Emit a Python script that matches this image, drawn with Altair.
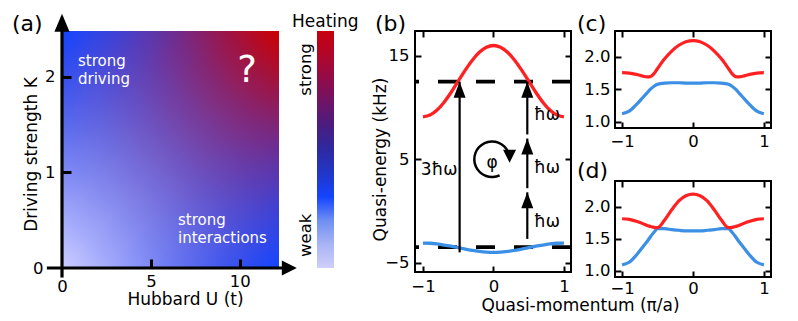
import altair as alt
import pandas as pd

# ---------------- data ----------------
# (a) heating diagram: extent of the map and its tick values
hubbard_u_extent = [0.0, 12.2]
driving_k_extent = [0.0, 2.48]
u_ticks_inner = [5, 10]
k_ticks_inner = [1, 2]
origin_tick = [0]

# colour bar
heating_extent = [0.0, 1.0]
heating_words = ["weak", "strong"]
heating_word_levels = [0.14, 0.84]

# (b) Floquet bands
qm_b = [-1.0, -0.9, -0.8, -0.7, -0.6, -0.5, -0.4, -0.3, -0.2, -0.1, 0.0,
        0.1, 0.2, 0.3, 0.4, 0.5, 0.6, 0.7, 0.8, 0.9, 1.0]
upper_b = [9.1, 9.27, 9.76, 10.52, 11.48, 12.55, 13.62, 14.58, 15.34, 15.83, 16.0,
           15.83, 15.34, 14.58, 13.62, 12.55, 11.48, 10.52, 9.76, 9.27, 9.1]
lower_b = [-3.10, -3.12, -3.19, -3.29, -3.41, -3.55, -3.69, -3.81, -3.91, -3.98, -4.0,
           -3.98, -3.91, -3.81, -3.69, -3.55, -3.41, -3.29, -3.19, -3.12, -3.10]
resonance_levels = [12.5, -3.5]
arrow_q = [-0.48, 0.48, 0.48, 0.48]
arrow_from = [-4.0, -2.7, 2.2, 7.4]
arrow_to = [12.5, 1.8, 7.0, 12.5]
b_x_ticks = [-1, 0, 1]
b_y_ticks = [15, 5, -5]

# (c), (d)
qm_cd = [-1.0, -0.9, -0.8, -0.7, -0.65, -0.6, -0.55, -0.5, -0.4, -0.3, -0.2, -0.1, 0.0,
         0.1, 0.2, 0.3, 0.4, 0.5, 0.55, 0.6, 0.65, 0.7, 0.8, 0.9, 1.0]
upper_c = [1.755, 1.75, 1.73, 1.70, 1.69, 1.695, 1.74, 1.82, 1.97, 2.09, 2.18, 2.235, 2.25,
           2.235, 2.18, 2.09, 1.97, 1.82, 1.74, 1.695, 1.69, 1.70, 1.73, 1.75, 1.755]
lower_c = [1.12, 1.16, 1.26, 1.38, 1.44, 1.50, 1.545, 1.575, 1.595, 1.60, 1.60, 1.595, 1.595,
           1.595, 1.60, 1.60, 1.595, 1.575, 1.545, 1.50, 1.44, 1.38, 1.26, 1.16, 1.12]
upper_d = [1.81, 1.80, 1.77, 1.73, 1.705, 1.69, 1.675, 1.67, 1.79, 1.95, 2.09, 2.17, 2.195,
           2.17, 2.09, 1.95, 1.79, 1.67, 1.675, 1.69, 1.705, 1.73, 1.77, 1.80, 1.81]
lower_d = [1.09, 1.13, 1.24, 1.38, 1.45, 1.53, 1.60, 1.655, 1.655, 1.64, 1.63, 1.62, 1.62,
           1.62, 1.63, 1.64, 1.655, 1.655, 1.60, 1.53, 1.45, 1.38, 1.24, 1.13, 1.09]
cd_x_ticks = [-1, 0, 1]
cd_y_ticks = [1.0, 1.5, 2.0]

# ---------------- styles ----------------
FONT = "DejaVu Sans"
RED = "#ff2121"
BLUE = "#3b8fe4"
FRAME = alt.ViewBackground(stroke="black", strokeWidth=2)
GAP = 44


def panel_title(text, dx, offset):
    return alt.TitleParams(text=text, anchor="start", frame="group", dx=dx, offset=offset,
                           baseline="alphabetic", fontSize=22, fontWeight="normal",
                           font=FONT, color="black")


def tick_axis(orient, offset, values, size=6, width=2):
    return alt.Axis(orient=orient, offset=offset, values=values, labels=False, ticks=True,
                    tickSize=size, tickWidth=width, tickColor="black", domain=False,
                    grid=False, title=None, zindex=2)


def label_axis(orient, values, pad, fmt=None, **kw):
    args = dict(orient=orient, values=values, labels=True, ticks=False, domain=False,
                grid=False, labelPadding=pad, labelFlush=False, labelFontSize=16.5,
                labelColor="black", labelFont=FONT, zindex=2)
    if fmt is not None:
        args["format"] = fmt
    if "title" not in kw:
        args["title"] = None
    args.update(kw)
    return alt.Axis(**args)


# ---------------- panel (a) ----------------
PX_PER_U = 217 / 12.2
W_A, H_A = 211, 237
xa = alt.Scale(domain=[0.0, W_A / PX_PER_U], nice=False, zero=False)
ya = alt.Scale(domain=driving_k_extent, nice=False, zero=False)

heat_df = pd.DataFrame({"u0": [hubbard_u_extent[0]], "u1": [hubbard_u_extent[1]],
                        "k0": [driving_k_extent[0]], "k1": [driving_k_extent[1]]})

diag_stops = [(0.0, "#cdcdff"), (0.125, "#a5abfb"), (0.25, "#888cef"), (0.375, "#776fdb"),
              (0.5, "#7154bf"), (0.625, "#773c9b"), (0.75, "#882670"), (0.875, "#a4123c"),
              (1.0, "#cc0000")]
base_grad = alt.LinearGradient(
    gradient="linear", x1=0, y1=1, x2=1, y2=0,
    stops=[alt.GradientStop(offset=o, color=c) for o, c in diag_stops])
anti_alpha = [(0.0, 1.0), (0.1, 0.64), (0.2, 0.36), (0.3, 0.16), (0.4, 0.04), (0.5, 0.0),
              (0.6, 0.04), (0.7, 0.16), (0.8, 0.36), (0.9, 0.64), (1.0, 1.0)]
anti_grad = alt.LinearGradient(
    gradient="linear", x1=0, y1=0, x2=1, y2=1,
    stops=[alt.GradientStop(offset=o, color=f"rgba(20,68,255,{a})") for o, a in anti_alpha])

heat = alt.Chart(heat_df).mark_rect(color=base_grad).encode(
    x=alt.X("u0:Q", scale=xa, axis=label_axis(
        "bottom", u_ticks_inner, 5, title="Hubbard U (t)", titleX=123, titleY=31,
        titleBaseline="middle", titleAlign="center", titleFontSize=17,
        titleFontWeight="normal", titleFont=FONT, titleColor="black")),
    x2="u1:Q",
    y=alt.Y("k0:Q", scale=ya, axis=label_axis(
        "left", k_ticks_inner, 7, title="Driving strength K", titleX=-31, titleY=123,
        titleAngle=270, titleBaseline="middle", titleAlign="center", titleFontSize=17,
        titleFontWeight="normal", titleFont=FONT, titleColor="black")),
    y2="k1:Q",
)
heat_overlay = alt.Chart(heat_df).mark_rect(color=anti_grad).encode(
    x=alt.X("u0:Q", scale=xa, axis=tick_axis("top", -H_A, u_ticks_inner, 9, 3)),
    x2="u1:Q",
    y=alt.Y("k0:Q", scale=ya, axis=tick_axis("right", -W_A, k_ticks_inner, 9, 3)),
    y2="k1:Q",
)
axes_lines = pd.DataFrame({"x": [-0.85, 0.0], "x2": [13.0, 0.0],
                           "y": [0.0, -0.1], "y2": [0.0, 2.55]})
a_axes = alt.Chart(axes_lines).mark_rule(color="black", strokeWidth=3.2).encode(
    x=alt.X("x:Q", scale=xa, axis=label_axis("bottom", origin_tick, 10)),
    x2="x2:Q",
    y=alt.Y("y:Q", scale=ya, axis=label_axis("left", origin_tick, 19)),
    y2="y2:Q",
)
a_head_x = alt.Chart(pd.DataFrame({"x": [13.2], "y": [0.0]})).mark_point(
    shape="M0,0 L-1,-0.5 L-1,0.5 Z", size=900, filled=True, color="black", opacity=1,
    strokeWidth=0).encode(x=alt.X("x:Q", scale=xa, axis=None),
                          y=alt.Y("y:Q", scale=ya, axis=None))
a_head_y = alt.Chart(pd.DataFrame({"x": [0.0], "y": [2.66]})).mark_point(
    shape="M0,0 L-0.42,1 L0.42,1 Z", size=1296, filled=True, color="black", opacity=1,
    strokeWidth=0).encode(x=alt.X("x:Q", scale=xa, axis=None),
                          y=alt.Y("y:Q", scale=ya, axis=None))
a_notes = pd.DataFrame({"x": [0.9, 0.9, 6.52, 6.52],
                        "y": [2.11, 1.93, 0.45, 0.26],
                        "t": ["strong", "driving", "strong", "interactions"]})
a_text = alt.Chart(a_notes).mark_text(color="white", fontSize=15, align="left",
                                      baseline="alphabetic").encode(
    x=alt.X("x:Q", scale=xa, axis=None), y=alt.Y("y:Q", scale=ya, axis=None), text="t:N")
a_q = alt.Chart(pd.DataFrame({"x": [10.4], "y": [1.95], "t": ["?"]})).mark_text(
    color="white", fontSize=37, align="center", baseline="alphabetic").encode(
    x=alt.X("x:Q", scale=xa, axis=None), y=alt.Y("y:Q", scale=ya, axis=None), text="t:N")

panel_a = alt.layer(heat, heat_overlay, a_axes, a_head_x, a_head_y, a_text, a_q).resolve_axis(
    x="independent", y="independent").properties(
    width=W_A, height=H_A, title=panel_title("(a)", -50, -39))

# ---------------- colour bar ----------------
cb_stops = [(0.0, "#cfcffa"), (0.1, "#a8b4f5"), (0.2, "#6f8ff2"), (0.3, "#1444ff"),
            (0.4, "#2236c8"), (0.5, "#2e2aa0"), (0.6, "#4a1c80"), (0.7, "#6e1466"),
            (0.8, "#920c48"), (0.9, "#b00628"), (1.0, "#c80010")]
cb_grad = alt.LinearGradient(
    gradient="linear", x1=0, y1=1, x2=0, y2=0,
    stops=[alt.GradientStop(offset=o, color=c) for o, c in cb_stops])
word_expr = " : ".join(
    [f"abs(datum.value - {lv}) < 0.01 ? '{w}'" for lv, w in zip(heating_word_levels, heating_words)]
) + " : ''"
cbar_df = pd.DataFrame({"w0": [0.0], "w1": [1.0],
                        "h0": [heating_extent[0]], "h1": [heating_extent[1]]})
cbar = alt.Chart(cbar_df).mark_rect(color=cb_grad).encode(
    x=alt.X("w0:Q", scale=alt.Scale(domain=[0, 1], range=[0, 17], nice=False, zero=False),
            axis=None),
    x2="w1:Q",
    y=alt.Y("h0:Q", scale=alt.Scale(domain=heating_extent, nice=False, zero=False),
            axis=label_axis("left", heating_word_levels, 4, labelExpr=word_expr,
                            labelAngle=270, labelAlign="center", labelBaseline="bottom")),
    y2="h1:Q",
).properties(width=415 - GAP - 317, height=H_A, title=alt.TitleParams(
    text="Heating", anchor="start", frame="group", dx=-25, offset=-13, baseline="alphabetic",
    fontSize=17, fontWeight="normal", font=FONT, color="black"))

# ---------------- panel (b) ----------------
W_B, H_B = 156, 241
xb = alt.Scale(domain=[-1.113, 1.1], nice=False, zero=False)
yb = alt.Scale(domain=[-5.9, 17.4], nice=False, zero=False)
band_b = pd.DataFrame({"q": qm_b, "upper": upper_b, "lower": lower_b})

b_dash = alt.Chart(pd.DataFrame({"e": resonance_levels})).mark_rule(
    color="black", strokeWidth=3.8, strokeDash=[19, 19]).encode(
    y=alt.Y("e:Q", scale=yb, axis=None))
b_red = alt.Chart(band_b).mark_line(color=RED, strokeWidth=3.3, interpolate="monotone").encode(
    x=alt.X("q:Q", scale=xb, axis=label_axis(
        "bottom", b_x_ticks, 6, title="Quasi-momentum (π/a)", titleX=165, titleY=33,
        titleBaseline="middle", titleAlign="center", titleFontSize=17,
        titleFontWeight="normal", titleFont=FONT, titleColor="black")),
    y=alt.Y("upper:Q", scale=yb, axis=label_axis(
        "left", b_y_ticks, 6, title="Quasi-energy (kHz)", titleX=-35, titleY=128,
        titleAngle=270, titleBaseline="middle", titleAlign="center", titleFontSize=17,
        titleFontWeight="normal", titleFont=FONT, titleColor="black")),
)
b_blue = alt.Chart(band_b).mark_line(color=BLUE, strokeWidth=3.3, interpolate="monotone").encode(
    x=alt.X("q:Q", scale=xb, axis=tick_axis("top", -H_B, b_x_ticks)),
    y=alt.Y("lower:Q", scale=yb, axis=tick_axis("right", -W_B, b_y_ticks)),
)
arrows = pd.DataFrame({"q": arrow_q, "e0": arrow_from, "e1": arrow_to})
b_shaft = alt.Chart(arrows).mark_rule(color="black", strokeWidth=2.2).encode(
    x=alt.X("q:Q", scale=xb, axis=tick_axis("bottom", -H_B, b_x_ticks)),
    y=alt.Y("e0:Q", scale=yb, axis=tick_axis("left", -W_B, b_y_ticks)),
    y2="e1:Q",
)
b_head = alt.Chart(arrows).mark_point(
    shape="M0,0 L-0.375,1 L0.375,1 Z", size=1024, filled=True, color="black", opacity=1,
    strokeWidth=0).encode(x=alt.X("q:Q", scale=xb, axis=None),
                          y=alt.Y("e1:Q", scale=yb, axis=None))
phase_center = pd.DataFrame({"q": [-0.02], "e": [5.0]})
b_arc = alt.Chart(phase_center).mark_arc(
    color="black", radius=19, radius2=16.5, theta=2.7, theta2=7.43).encode(
    x=alt.X("q:Q", scale=xb, axis=None), y=alt.Y("e:Q", scale=yb, axis=None))
b_arc_head = alt.Chart(phase_center).mark_point(
    shape="M0,0 L-0.5,-1 L0.5,-1 Z", size=676, filled=True, color="black", opacity=1,
    strokeWidth=0, xOffset=17.5, yOffset=3.5).encode(
    x=alt.X("q:Q", scale=xb, axis=None), y=alt.Y("e:Q", scale=yb, axis=None))
b_notes = pd.DataFrame({"q": [-0.02, -0.77, 0.76, 0.76, 0.76],
                        "e": [4.6, 4.0, 9.3, 4.2, -1.1],
                        "t": ["φ", "3ħω", "ħω", "ħω", "ħω"]})
b_text = alt.Chart(b_notes).mark_text(color="black", fontSize=17, align="center",
                                      baseline="middle").encode(
    x=alt.X("q:Q", scale=xb, axis=None), y=alt.Y("e:Q", scale=yb, axis=None), text="t:N")

panel_b = alt.layer(b_dash, b_red, b_blue, b_shaft, b_head, b_arc, b_arc_head, b_text).resolve_axis(
    x="independent", y="independent").properties(
    width=W_B, height=H_B, view=FRAME, title=panel_title("(b)", -40, -23))


# ---------------- panels (c), (d) ----------------
def small_panel(upper, lower, height, xpad, label, title_offset):
    df = pd.DataFrame({"q": qm_cd, "upper": upper, "lower": lower})
    xs = alt.Scale(domain=[-1.1, 1.1], nice=False, zero=False)
    ys = alt.Scale(domain=[0.9, 2.4], nice=False, zero=False)
    red = alt.Chart(df).mark_line(color=RED, strokeWidth=3.2, interpolate="monotone").encode(
        x=alt.X("q:Q", scale=xs, axis=label_axis("bottom", cd_x_ticks, xpad)),
        y=alt.Y("upper:Q", scale=ys, axis=label_axis("left", cd_y_ticks, 5, fmt=".1f")),
    )
    blue = alt.Chart(df).mark_line(color=BLUE, strokeWidth=3.2, interpolate="monotone").encode(
        x=alt.X("q:Q", scale=xs, axis=tick_axis("top", -height, cd_x_ticks)),
        y=alt.Y("lower:Q", scale=ys, axis=tick_axis("right", -156, cd_y_ticks)),
    )
    frame_ticks = alt.Chart(df).mark_line(strokeOpacity=0).encode(
        x=alt.X("q:Q", scale=xs, axis=tick_axis("bottom", -height, cd_x_ticks)),
        y=alt.Y("upper:Q", scale=ys, axis=tick_axis("left", -156, cd_y_ticks)),
    )
    return alt.layer(frame_ticks, blue, red).resolve_axis(
        x="independent", y="independent").properties(
        width=156, height=height, view=FRAME, title=panel_title(label, -38, title_offset))


panel_c = small_panel(upper_c, lower_c, 97, 5, "(c)", -23)
panel_d = small_panel(upper_d, lower_d, 96, 3, "(d)", -20)

cd = alt.vconcat(panel_c, panel_d, spacing=53, bounds="flush")

chart = alt.hconcat(panel_a, cbar, panel_b, cd, spacing=GAP, bounds="flush").properties(
    padding={"left": 4, "top": 4, "right": 5, "bottom": 5}
).configure(font=FONT).configure_view(strokeWidth=0).configure_axis(
    labelFont=FONT, titleFont=FONT, labelColor="black", titleColor="black"
)

chart.save("out.html", embed_options={"renderer": "svg", "actions": False})
